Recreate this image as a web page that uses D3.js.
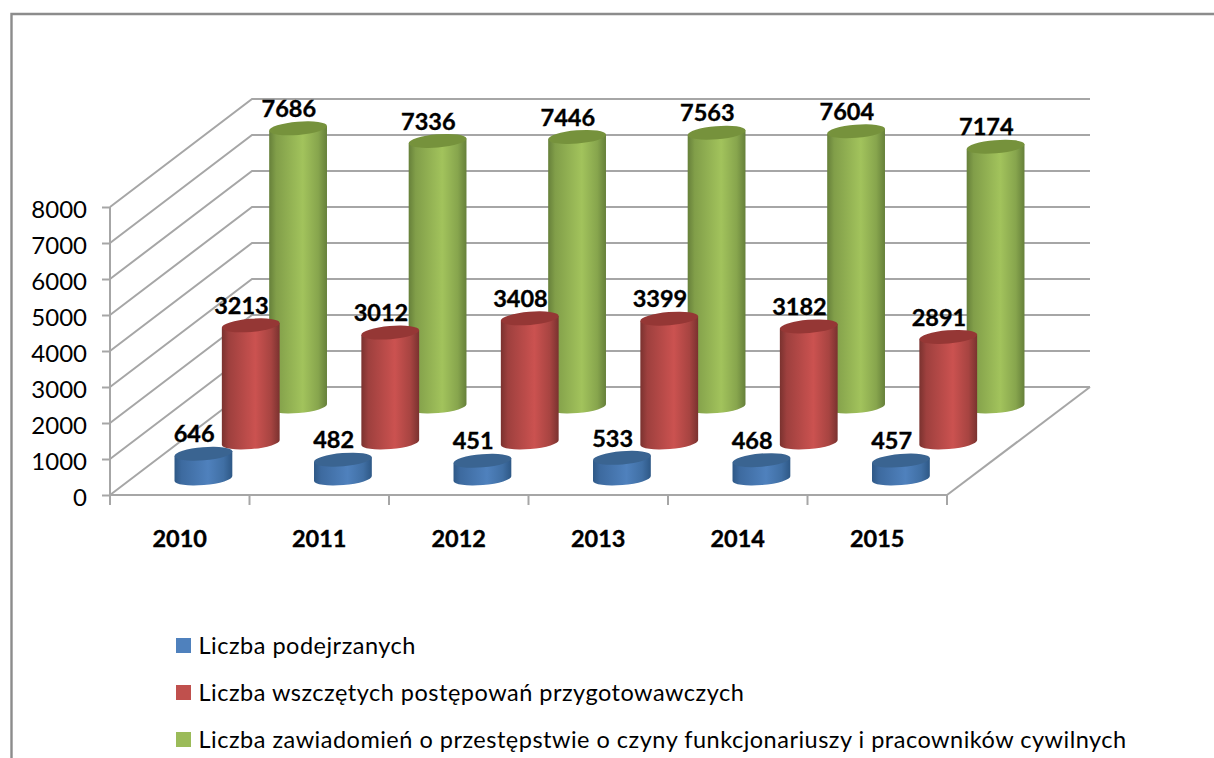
<!DOCTYPE html>
<html><head><meta charset="utf-8">
<script src="https://cdn.jsdelivr.net/npm/d3@7"></script>
<style>html,body{margin:0;padding:0;background:#fff;overflow:hidden}svg{display:block}text{font-family:Lato,sans-serif;fill:#000}</style>
</head><body><svg id="c" width="1214" height="758"></svg>
<script>
const categories=["2010","2011","2012","2013","2014","2015"];
const seriesNames=["Liczba podejrzanych","Liczba wszczętych postępowań przygotowawczych","Liczba zawiadomień o przestępstwie o czyny funkcjonariuszy i pracowników cywilnych"];
const podejrzani=[646,482,451,533,468,457];
const postepowania=[3213,3012,3408,3399,3182,2891];
const zawiadomienia=[7686,7336,7446,7563,7604,7174];
const yTicks=[0,1000,2000,3000,4000,5000,6000,7000,8000];
const colors=[{edge:"#2e5886",mid:"#4f81bd",top:"#3a6491"},{edge:"#7a322f",mid:"#cb5250",top:"#953735"},{edge:"#66803a",mid:"#a2c35c",top:"#76923c"}];
const legendColors=["#4f81bd","#c0504d","#9bbb59"];

const svg=d3.select("#c");
const gray="#a6a6a6";
const depthX=142,depthY=108;
const x=d3.scaleBand().domain(categories).range([110,947]);
const y=d3.scaleLinear().domain([0,8000]).range([495,207]);
const depth=d3.scaleLinear().domain([0,1]).range([0,1]);
const px=(c,d)=>x(c)+x.bandwidth()/2+depth(d)*depthX;
const py=(v,d)=>y(v)-depth(d)*depthY;

svg.append("path").attr("d","M11.5,758V14H1214").attr("fill","none").attr("stroke","#8c8c8c").attr("stroke-width",2.4);

const defs=svg.append("defs");
colors.forEach((c,i)=>{
  const g=defs.append("linearGradient").attr("id","g"+i);
  [[0,c.edge],[.12,d3.interpolateRgb(c.edge,c.mid)(.45)],[.58,c.mid],[.85,d3.interpolateRgb(c.edge,c.mid)(.55)],[1,c.edge]]
    .forEach(s=>g.append("stop").attr("offset",s[0]).attr("stop-color",s[1]));
});

const grid=svg.append("g").attr("fill","none").attr("stroke",gray).attr("stroke-width",2);
yTicks.forEach(t=>{
  grid.append("path").attr("d",d3.line()([[110,y(t)],[110+depthX,y(t)-depthY],[947+depthX+1,y(t)-depthY]]));
});
grid.append("path").attr("d",d3.line()([[947,y(0)],[947+depthX+1,y(0)-depthY]]));

const axL=svg.append("g").attr("transform","translate(110,0)").call(d3.axisLeft(y).tickValues(yTicks).tickFormat(d3.format("d")).tickSize(8).tickPadding(15));
axL.select(".domain").attr("stroke",gray).attr("stroke-width",2).attr("d",`M0,${y(8000)}V${y(0)}`);
axL.selectAll("line").attr("stroke",gray).attr("stroke-width",2);
axL.selectAll("text").style("font-size","24px").style("font-family","Lato,sans-serif").attr("fill","#000").attr("dy","0.42em");

const xEdges=d3.range(categories.length).map(i=>x(categories[i])).concat([947]);
const axB=svg.append("g");
axB.append("path").attr("d",`M110,${y(0)}H947`).attr("fill","none").attr("stroke",gray).attr("stroke-width",2);
axB.selectAll("line").data(xEdges).join("line").attr("x1",d=>d).attr("x2",d=>d).attr("y1",y(0)).attr("y2",y(0)+10).attr("stroke",gray).attr("stroke-width",2);
axB.selectAll("text").data(categories).join("text").attr("x",d=>px(d,0)).attr("y",546.5).attr("text-anchor","middle").attr("font-weight",700).attr("font-size",23.5).attr("stroke","#000").attr("stroke-width",.35).text(d=>d);

const rx=29,ry=6.6,tilt=-4.8;
const rad=tilt*Math.PI/180,ex=rx*Math.cos(rad),ey=rx*Math.sin(rad);
const seriesDepth=[1/6,3/6,5/6];
const allSeries=[podejrzani,postepowania,zawiadomienia];
const bars=svg.append("g");
const labels=[];
[2,1,0].forEach(s=>{
  categories.forEach((c,i)=>{
    const v=allSeries[s][i],d=seriesDepth[s];
    const cx=px(c,d),top=py(v,d),bot=py(0,d)+1.5;
    bars.append("path")
      .attr("d",`M${cx-ex},${top-ey}L${cx-ex},${bot-ey}A${rx},${ry} ${tilt} 0 0 ${cx+ex},${bot+ey}L${cx+ex},${top+ey}Z`)
      .attr("fill",`url(#g${s})`);
    bars.append("ellipse").attr("rx",rx).attr("ry",ry)
      .attr("transform",`translate(${cx},${top}) rotate(${tilt})`)
      .attr("fill",colors[s].top);
    labels.push({v,x:cx-9.3,y:top-11.3});
  });
});
svg.append("g").selectAll("text").data(labels).join("text")
  .attr("x",d=>d.x).attr("y",d=>d.y).attr("text-anchor","middle")
  .attr("font-weight",700).attr("font-size",23.5).attr("stroke","#000").attr("stroke-width",.35).text(d=>d.v);

const legendY=d3.scalePoint().domain(seriesNames).range([638,732]);
const lg=svg.append("g").selectAll("g").data(seriesNames).join("g").attr("transform",d=>`translate(176,${legendY(d)})`);
lg.append("rect").attr("width",15).attr("height",15).attr("fill",(d,i)=>legendColors[i]);
lg.append("text").attr("x",22.5).attr("y",16).attr("font-size",23.5).attr("letter-spacing",.5).text(d=>d);
</script></body></html>
